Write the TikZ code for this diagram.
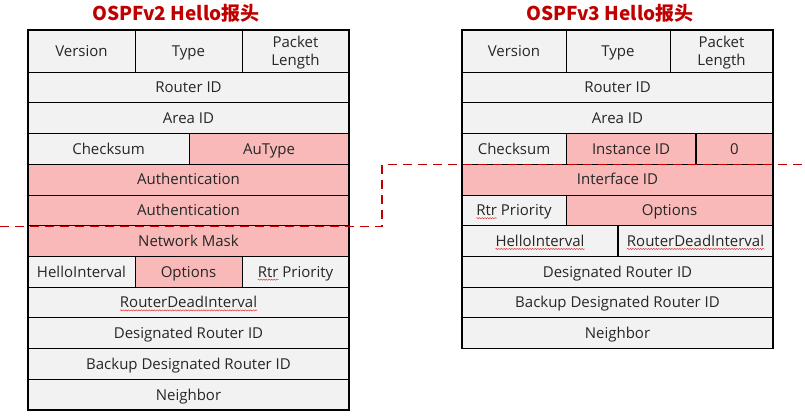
\documentclass[tikz,border=0pt]{standalone}
\usepackage{fontspec}
\setmainfont{Open Sans}
\newfontfamily\cjk{Noto Sans CJK SC}
\usetikzlibrary{decorations.pathmorphing}
\definecolor{cellgray}{HTML}{F2F2F2}
\definecolor{cellpink}{HTML}{F8B9B8}
\definecolor{txt}{HTML}{262626}
\definecolor{dred}{HTML}{C00000}
\definecolor{sqcol}{HTML}{E03A3A}
\tikzset{
  cellg/.style={draw=black, line width=0.8pt, fill=cellgray, text=txt, inner sep=0pt, outer sep=0pt,
    font=\fontsize{15}{18}\selectfont, align=center, text height=10.7pt, text depth=0pt},
  cellp/.style={cellg, fill=cellpink},
  twoline/.style={text height=28.7pt},
  outerbox/.style={draw=black, line width=1.8pt},
  titlestyle/.style={text=dred, font=\cjk\bfseries\fontsize{19}{23}\selectfont, inner sep=0pt},
  dashline/.style={draw=dred, line width=1.8pt, dash pattern=on 9pt off 6pt},
  sqword/.style={draw=none, fill=none, minimum width=0pt, minimum height=0pt, inner sep=0pt,
    outer sep=0pt, anchor=base, text=txt, shape=rectangle},
  sqline/.style={draw=sqcol, line width=0.5pt, solid, overlay, decorate,
    decoration={snake, amplitude=0.6pt, segment length=2.6pt}},
}
\newcommand\cellbox[7]{%
  \node[#1, anchor=north west, minimum width={(#5-#3)*1pt}, minimum height={(#6-#4)*1pt}] (#2) at (#3,#4) {#7};}
\newcommand\sq[1]{\tikz[baseline=(sqw.base), x=1pt, y=1pt]{\node[sqword] (sqw) at (0,0) {#1};
  \draw[sqline] ([yshift=-2.6pt]sqw.base west) -- ([yshift=-2.6pt]sqw.base east);}}
\begin{document}
\begin{tikzpicture}[x=1pt, y=-1pt]
\useasboundingbox (0,0) rectangle (805,416);
% ---------- OSPFv2 ----------
\node[titlestyle] (t2) at (176,13) {OSPFv2 Hello报头};
\cellbox{cellg}{a1}{28}{30}{135}{72}{Version}
\cellbox{cellg}{a2}{135}{30}{242}{72}{Type}
\cellbox{cellg,twoline}{a3}{242}{30}{349}{72}{Packet\\Length}
\cellbox{cellg}{a4}{28}{72}{349}{102.7}{Router ID}
\cellbox{cellg}{a5}{28}{102.7}{349}{133.5}{Area ID}
\cellbox{cellg}{a6}{28}{133.5}{189}{164.2}{Checksum}
\cellbox{cellp}{a7}{189}{133.5}{349}{164.2}{AuType}
\cellbox{cellp}{a8}{28}{164.2}{349}{194.9}{Authentication}
\cellbox{cellp}{a9}{28}{194.9}{349}{225.6}{Authentication}
\cellbox{cellp}{a10}{28}{225.6}{349}{256.4}{Network Mask}
\cellbox{cellg}{a11}{28}{256.4}{135}{287.1}{HelloInterval}
\cellbox{cellp}{a12}{135}{256.4}{242}{287.1}{Options}
\cellbox{cellg}{a13}{242}{256.4}{349}{287.1}{\sq{Rtr} Priority}
\cellbox{cellg}{a14}{28}{287.1}{349}{317.8}{\sq{RouterDeadInterval}}
\cellbox{cellg}{a15}{28}{317.8}{349}{348.5}{Designated Router ID}
\cellbox{cellg}{a16}{28}{348.5}{349}{379.3}{Backup Designated Router ID}
\cellbox{cellg}{a17}{28}{379.3}{349}{410}{Neighbor}
\draw[outerbox] (a1.north west) rectangle (a17.south east);
% ---------- OSPFv3 ----------
\node[titlestyle] (t3) at (610,13) {OSPFv3 Hello报头};
\cellbox{cellg}{b1}{462}{30}{566}{72}{Version}
\cellbox{cellg}{b2}{566}{30}{670}{72}{Type}
\cellbox{cellg,twoline}{b3}{670}{30}{773}{72}{Packet\\Length}
\cellbox{cellg}{b4}{462}{72}{773}{102.7}{Router ID}
\cellbox{cellg}{b5}{462}{102.7}{773}{133.5}{Area ID}
\cellbox{cellg}{b6}{462}{133.5}{566}{164.2}{Checksum}
\cellbox{cellp}{b7}{566}{133.5}{696}{164.2}{Instance ID}
\cellbox{cellp}{b8}{696}{133.5}{773}{164.2}{0}
\cellbox{cellp}{b9}{462}{164.2}{773}{194.9}{Interface ID}
\cellbox{cellg}{b10}{462}{194.9}{566}{225.6}{\sq{Rtr} Priority}
\cellbox{cellp}{b11}{566}{194.9}{773}{225.6}{Options}
\cellbox{cellg}{b12}{462}{225.6}{618}{256.4}{\sq{HelloInterval}}
\cellbox{cellg}{b13}{618}{225.6}{773}{256.4}{\sq{RouterDeadInterval}}
\cellbox{cellg}{b14}{462}{256.4}{773}{287.1}{Designated Router ID}
\cellbox{cellg}{b15}{462}{287.1}{773}{317.8}{Backup Designated Router ID}
\cellbox{cellg}{b16}{462}{317.8}{773}{348.5}{Neighbor}
\draw[line width=1.8pt] (b7.north east) -- (b7.south east);
\draw[line width=1.8pt] (b12.north east) -- (b12.south east);
\draw[outerbox] (b1.north west) rectangle (b16.south east);
% ---------- dashed boundary ----------
\coordinate (d0) at (0,226.5);
\coordinate (d1) at (382,226.5);
\coordinate (d2) at (382,164.5);
\coordinate (d3) at (805,164.5);
\draw[dashline] (d0) -- (d1) -- (d2) -- (d3);
\end{tikzpicture}
\end{document}
